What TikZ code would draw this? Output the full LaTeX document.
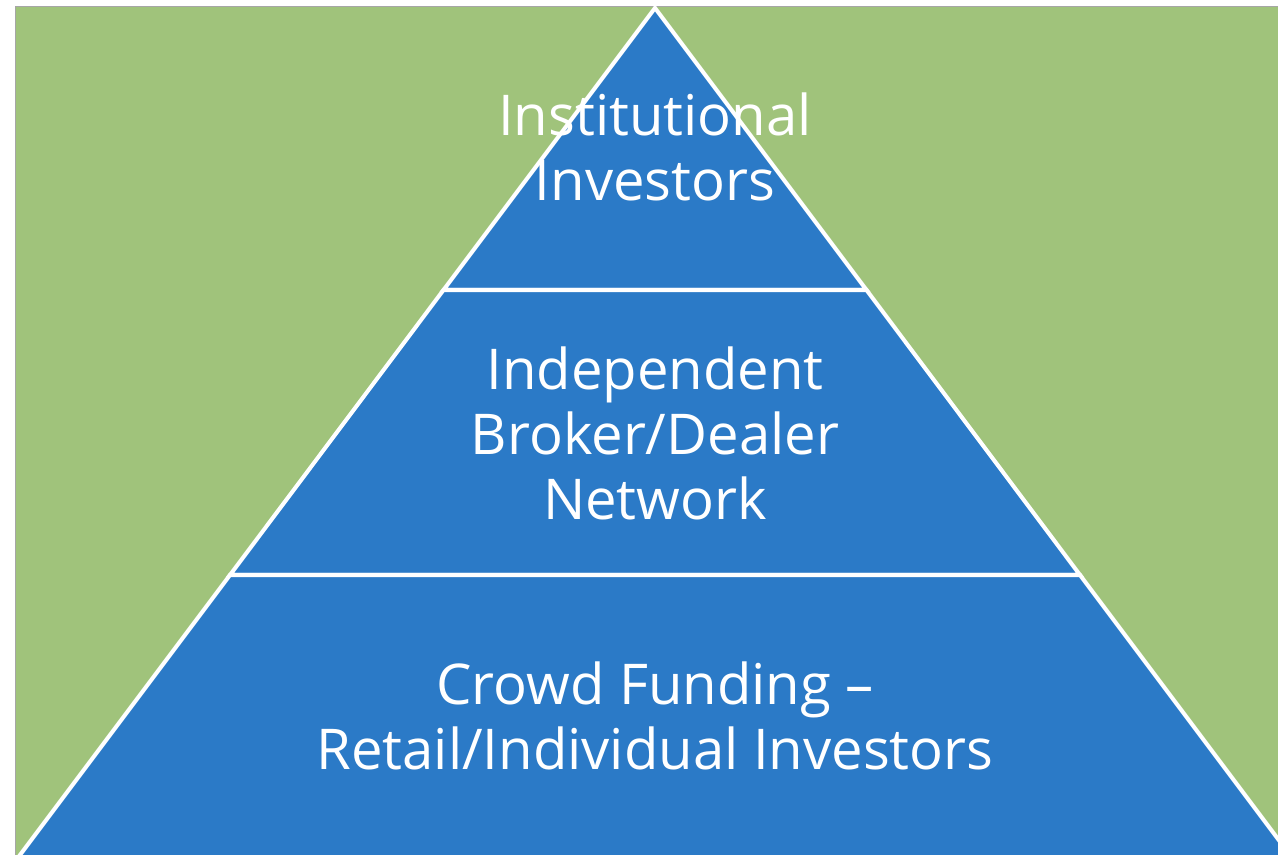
\documentclass[tikz,border=0pt]{standalone}
\usepackage{fontspec}
\setmainfont{Open Sans}
\usepackage{tikz}
\usetikzlibrary{positioning}
\definecolor{tierblue}{RGB}{43,122,199}
\definecolor{fieldgreen}{RGB}{160,195,123}

\begin{document}
\begin{tikzpicture}[
  x=0.02cm, y=-0.02cm,
  tier/.style={fill=tierblue, draw=white, line width=2.3pt, line join=miter},
  lbl/.style={text=white, align=center, font=\fontsize{32}{37}\selectfont, inner sep=0pt},
]
  \useasboundingbox (0,0) rectangle (1278,855);
  \clip (0,0) rectangle (1278,855);
  \fill[white] (0,0) rectangle (1278,855);
  \draw[fill=fieldgreen, draw=gray!70, line width=0.4pt] (15,6) rectangle (1290,870);

  \draw[tier] (655,8) -- (866.5,290) -- (443.5,290) -- cycle;
  \draw[tier] (443.5,290) -- (866.5,290) -- (1080,575) -- (230,575) -- cycle;
  \draw[tier] (230,575) -- (1080,575) -- (1296,863) -- (14,863) -- cycle;

  \node[lbl] (inst) at (655,147) {Institutional\\Investors};
  \node[lbl] (broker) at (655,433) {Independent\\Broker/Dealer\\Network};
  \node[lbl] (crowd) at (655,716) {Crowd Funding –\\Retail/Individual Investors};
\end{tikzpicture}
\end{document}
